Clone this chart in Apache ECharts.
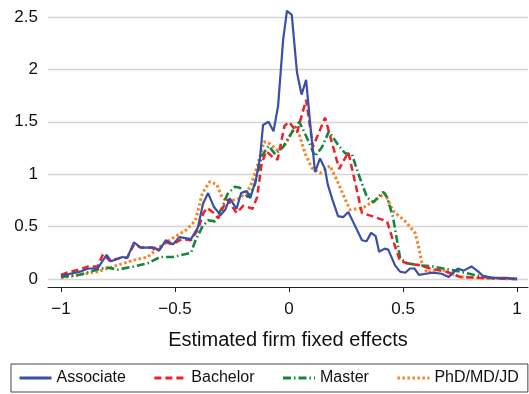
<!DOCTYPE html>
<html>
<head>
<meta charset="utf-8">
<script src="https://cdn.jsdelivr.net/npm/echarts@6/dist/echarts.min.js"></script>
<style>html,body{margin:0;padding:0;background:#fff}#c{width:529px;height:394px}</style>
</head>
<body>
<div id="c"></div>
<script>
var xTicks = [-1, -0.5, 0, 0.5, 1];
var yTicks = [0, 0.5, 1, 1.5, 2, 2.5];
var seriesNames = ['Associate', 'Bachelor', 'Master', 'PhD/MD/JD'];

var assocX = [-1.0,-0.96,-0.917,-0.88,-0.84,-0.80,-0.78,-0.73,-0.71,-0.68,-0.65,-0.59,-0.57,-0.54,-0.51,-0.48,-0.43,-0.40,-0.377,-0.355,-0.33,-0.30,-0.28,-0.26,-0.23,-0.21,-0.185,-0.17,-0.145,-0.127,-0.114,-0.09,-0.068,-0.048,-0.026,-0.009,0.012,0.035,0.055,0.075,0.092,0.114,0.136,0.158,0.17,0.19,0.215,0.237,0.26,0.28,0.32,0.34,0.36,0.38,0.395,0.42,0.435,0.465,0.487,0.51,0.53,0.55,0.57,0.60,0.63,0.67,0.70,0.74,0.765,0.80,0.83,0.85,0.895,0.95,1.0];
var assocY = [0.03,0.05,0.07,0.10,0.10,0.23,0.17,0.21,0.20,0.35,0.30,0.30,0.27,0.37,0.33,0.40,0.38,0.49,0.72,0.82,0.69,0.61,0.66,0.77,0.67,0.82,0.84,0.77,0.95,1.16,1.47,1.50,1.41,1.65,2.28,2.56,2.52,1.97,1.76,1.90,1.50,1.02,1.15,1.05,0.90,0.76,0.60,0.59,0.64,0.55,0.37,0.36,0.44,0.41,0.26,0.29,0.28,0.13,0.07,0.06,0.10,0.10,0.04,0.05,0.06,0.05,0.02,0.10,0.08,0.12,0.07,0.03,0.01,0.01,0.0];

var bachX = [-1.0,-0.975,-0.92,-0.88,-0.84,-0.815,-0.785,-0.73,-0.71,-0.68,-0.65,-0.60,-0.58,-0.54,-0.51,-0.47,-0.43,-0.40,-0.375,-0.36,-0.33,-0.31,-0.29,-0.27,-0.23,-0.20,-0.16,-0.14,-0.12,-0.10,-0.07,-0.05,-0.02,0.0,0.035,0.075,0.105,0.158,0.22,0.26,0.32,0.364,0.43,0.456,0.487,0.52,0.575,0.62,0.69,0.75,0.85,1.0];
var bachY = [0.04,0.06,0.09,0.12,0.12,0.24,0.17,0.21,0.20,0.33,0.30,0.30,0.26,0.35,0.33,0.38,0.37,0.47,0.63,0.68,0.63,0.58,0.68,0.76,0.63,0.70,0.67,0.78,1.10,1.22,1.16,1.14,1.46,1.50,1.40,1.71,1.26,1.54,1.05,1.21,0.63,0.60,0.55,0.37,0.17,0.15,0.13,0.10,0.07,0.02,0.01,0.0];

var mastX = [-1.0,-0.92,-0.84,-0.80,-0.75,-0.68,-0.62,-0.565,-0.51,-0.43,-0.41,-0.38,-0.355,-0.325,-0.294,-0.27,-0.237,-0.215,-0.18,-0.15,-0.12,-0.09,-0.06,-0.026,0.013,0.045,0.078,0.092,0.114,0.145,0.175,0.215,0.246,0.276,0.303,0.342,0.37,0.39,0.413,0.43,0.456,0.487,0.517,0.575,0.63,0.70,0.75,0.81,0.88,1.0];
var mastY = [0.02,0.04,0.09,0.11,0.09,0.12,0.15,0.21,0.21,0.25,0.37,0.50,0.56,0.55,0.68,0.81,0.88,0.87,0.78,0.90,1.17,1.27,1.19,1.26,1.40,1.50,1.35,1.28,1.17,1.26,1.41,1.28,1.20,1.19,1.01,0.78,0.73,0.78,0.83,0.78,0.59,0.20,0.15,0.13,0.12,0.09,0.07,0.04,0.01,0.0];

var phdX = [-1.0,-0.92,-0.84,-0.77,-0.68,-0.62,-0.565,-0.51,-0.45,-0.41,-0.38,-0.347,-0.316,-0.294,-0.27,-0.215,-0.17,-0.14,-0.11,-0.09,-0.053,-0.018,0.026,0.045,0.07,0.10,0.136,0.18,0.215,0.246,0.268,0.325,0.39,0.42,0.456,0.51,0.553,0.568,0.583,0.605,0.66,0.70,0.75,0.85,1.0];
var phdY = [0.01,0.04,0.07,0.12,0.18,0.21,0.31,0.39,0.47,0.56,0.82,0.93,0.90,0.78,0.74,0.77,0.88,1.07,1.31,1.30,1.23,1.28,1.45,1.38,1.20,1.06,1.01,1.08,0.92,0.76,0.66,0.68,0.77,0.82,0.65,0.55,0.44,0.31,0.15,0.06,0.10,0.06,0.02,0.01,0.0];

function pairs(xs, ys) { return xs.map(function (x, i) { return [x, ys[i]]; }); }
function fmt(v) { return v < 0 ? '\u2212' + Math.abs(v) : String(v); }

var FONT = 'Liberation Sans, Arial, Helvetica, sans-serif';
var chart = echarts.init(document.getElementById('c'), null, {renderer: 'canvas'});
chart.setOption({
  animation: false,
  backgroundColor: '#fff',
  grid: {left: 48, right: 1, top: 17, bottom: 115, containLabel: false},
  xAxis: {
    type: 'value', min: -1.057, max: 1.048, offset: 8,
    axisLine: {onZero: false, lineStyle: {color: '#222', width: 1}},
    axisTick: {customValues: xTicks, length: 5, lineStyle: {color: '#222'}},
    axisLabel: {customValues: xTicks, formatter: fmt, fontSize: 17, color: '#111', fontFamily: FONT, margin: 14},
    splitLine: {show: false},
    name: 'Estimated firm fixed effects', nameLocation: 'middle', nameGap: 43,
    nameTextStyle: {fontSize: 20, color: '#111', fontFamily: FONT}
  },
  yAxis: {
    type: 'value', min: 0, max: 2.5, interval: 0.5,
    axisLine: {show: false}, axisTick: {show: false},
    axisLabel: {fontSize: 17, color: '#111', fontFamily: FONT, margin: 10, formatter: function (v) { return String(v); }},
    splitLine: {lineStyle: {color: '#d4d4d4', width: 1.3}}
  },
  legend: {
    left: 11, top: 364, orient: 'horizontal',
    borderColor: '#444', borderWidth: 1, padding: [6, 9, 6, 7],
    itemGap: 27, itemTextGap: 11, itemWidth: 32, itemHeight: 14,
    itemStyle: {opacity: 0},
    lineStyle: {width: 3},
    textStyle: {fontSize: 16, color: '#111', fontFamily: FONT},
    data: seriesNames
  },
  series: [
    {name: seriesNames[0], type: 'line', data: pairs(assocX, assocY), symbol: 'none', clip: false, z: 5,
     lineStyle: {color: '#3a4fa5', width: 2.2, type: 'solid'}, itemStyle: {color: '#3a4fa5'}},
    {name: seriesNames[1], type: 'line', data: pairs(bachX, bachY), symbol: 'none', clip: false, z: 4,
     lineStyle: {color: '#ec2228', width: 2.5, type: [7, 4]}, itemStyle: {color: '#ec2228'}},
    {name: seriesNames[2], type: 'line', data: pairs(mastX, mastY), symbol: 'none', clip: false, z: 3,
     lineStyle: {color: '#15873c', width: 2.6, type: [8, 3, 1.5, 3]}, itemStyle: {color: '#15873c'}},
    {name: seriesNames[3], type: 'line', data: pairs(phdX, phdY), symbol: 'none', clip: false, z: 2,
     lineStyle: {color: '#f58426', width: 3, type: [2.5, 2.5]}, itemStyle: {color: '#f58426'}}
  ]
});
</script>
</body>
</html>
